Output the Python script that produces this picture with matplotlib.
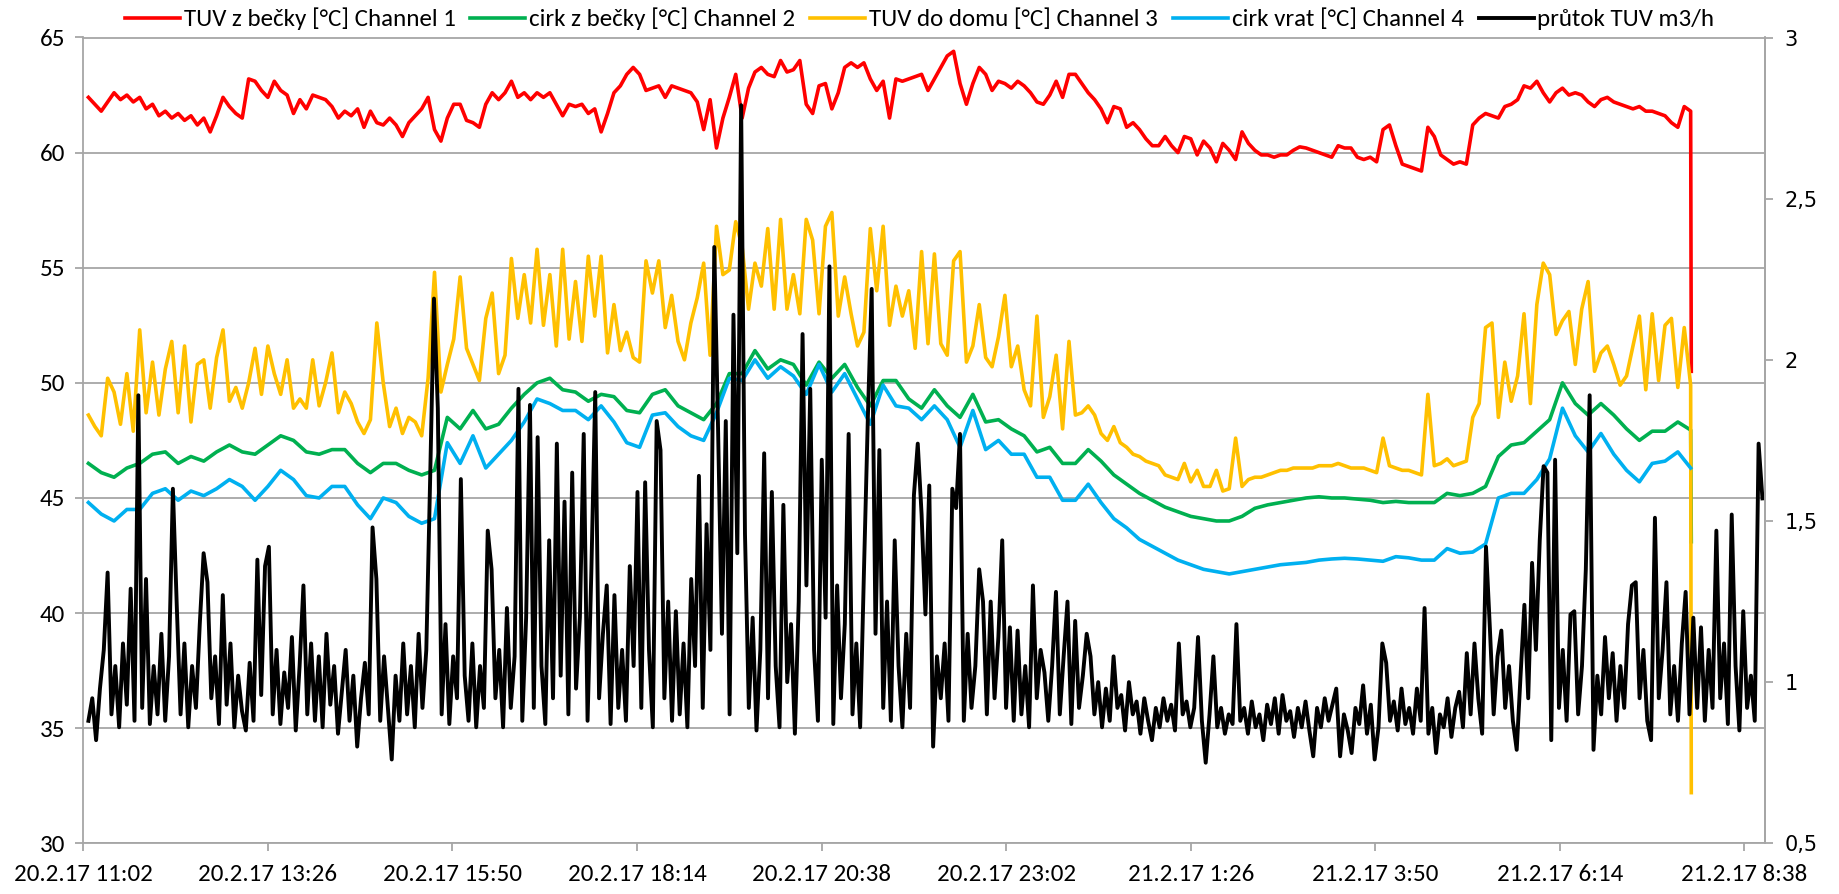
import numpy as np
import matplotlib
matplotlib.use("Agg")
import matplotlib.pyplot as plt
from datetime import datetime, timedelta

# time axis: minutes after 20.2.17 11:02
start = datetime(2017, 2, 20, 11, 2)
temp_t0, temp_t1 = 4, 1254      # colour series sampled over this span
flow_t0, flow_t1 = 4, 1310

labels = ["TUV z bečky [°C] Channel 1", "cirk z bečky [°C] Channel 2",
          "TUV do domu [°C] Channel 3", "cirk vrat [°C] Channel 4",
          "průtok TUV m3/h"]

# Channel 1, every 5 min
red_vals = [
    62.4, 62.1, 61.8, 62.2, 62.6, 62.3, 62.5, 62.2, 62.4, 61.9,
    62.1, 61.6, 61.8, 61.5, 61.7, 61.4, 61.6, 61.2, 61.5, 60.9,
    61.6, 62.4, 62.0, 61.7, 61.5, 63.2, 63.1, 62.7, 62.4, 63.1,
    62.7, 62.5, 61.7, 62.3, 61.9, 62.5, 62.4, 62.3, 62.0, 61.5,
    61.8, 61.6, 61.9, 61.1, 61.8, 61.3, 61.2, 61.5, 61.2, 60.7,
    61.3, 61.6, 61.9, 62.4, 61.0, 60.5, 61.5, 62.1, 62.1, 61.4,
    61.3, 61.1, 62.1, 62.6, 62.3, 62.6, 63.1, 62.4, 62.6, 62.3,
    62.6, 62.4, 62.6, 62.1, 61.6, 62.1, 62.0, 62.1, 61.7, 61.9,
    60.9, 61.7, 62.6, 62.9, 63.4, 63.7, 63.4, 62.7, 62.8, 62.9,
    62.4, 62.9, 62.8, 62.7, 62.6, 62.2, 61.0, 62.3, 60.2, 61.5,
    62.4, 63.4, 61.5, 62.8, 63.5, 63.7, 63.4, 63.3, 64.0, 63.5,
    63.6, 64.0, 62.1, 61.7, 62.9, 63.0, 61.9, 62.6, 63.7, 63.9,
    63.7, 63.9, 63.2, 62.7, 63.1, 61.5, 63.2, 63.1, 63.2, 63.3,
    63.4, 62.7, 63.2, 63.7, 64.2, 64.4, 63.0, 62.1, 63.0, 63.7,
    63.4, 62.7, 63.1, 63.0, 62.8, 63.1, 62.9, 62.6, 62.2, 62.1,
    62.5, 63.1, 62.4, 63.4, 63.4, 63.0, 62.6, 62.3, 61.9, 61.3,
    62.0, 61.9, 61.1, 61.3, 61.0, 60.6, 60.3, 60.3, 60.7, 60.3,
    60.0, 60.7, 60.6, 59.9, 60.5, 60.2, 59.6, 60.4, 60.1, 59.7,
    60.9, 60.4, 60.1, 59.9, 59.9, 59.8, 59.9, 59.9, 60.1, 60.25,
    60.2, 60.1, 60.0, 59.9, 59.8, 60.3, 60.2, 60.2, 59.8, 59.7,
    59.8, 59.6, 61.0, 61.2, 60.3, 59.5, 59.4, 59.3, 59.2, 61.1,
    60.7, 59.9, 59.7, 59.5, 59.6, 59.5, 61.2, 61.5, 61.7, 61.6,
    61.5, 62.0, 62.1, 62.3, 62.9, 62.8, 63.1, 62.6, 62.2, 62.6,
    62.8, 62.5, 62.6, 62.5, 62.2, 62.0, 62.3, 62.4, 62.2, 62.1,
    62.0, 61.9, 62.0, 61.8, 61.8, 61.7, 61.6, 61.3, 61.1, 62.0,
    61.8,
]
red_end = 50.5

# Channel 3, every 5 min
yellow_vals = [
    48.6, 48.1, 47.7, 50.2, 49.6, 48.2, 50.4, 47.9, 52.3, 48.7,
    50.9, 48.6, 50.6, 51.8, 48.7, 51.6, 48.3, 50.8, 51.0, 48.9,
    51.1, 52.3, 49.2, 49.8, 48.9, 50.0, 51.5, 49.5, 51.6, 50.4,
    49.5, 51.0, 48.9, 49.3, 48.9, 51.0, 49.0, 50.0, 51.3, 48.7,
    49.6, 49.1, 48.3, 47.8, 48.4, 52.6, 50.0, 48.1, 48.9, 47.8,
    48.5, 48.3, 47.7, 50.2, 54.8, 49.6, 50.8, 51.9, 54.6, 51.5,
    50.8, 50.1, 52.8, 53.9, 50.4, 51.2, 55.4, 52.8, 54.7, 52.6,
    55.8, 52.5, 54.7, 51.6, 55.8, 51.9, 54.4, 51.8, 55.5, 52.9,
    55.5, 51.3, 53.4, 51.4, 52.2, 51.1, 50.9, 55.3, 53.9, 55.3,
    52.4, 53.8, 51.8, 51.0, 52.6, 53.7, 55.2, 51.2, 56.8, 54.7,
    54.9, 57.0, 55.9, 53.2, 55.2, 54.2, 56.7, 53.2, 57.1, 53.2,
    54.7, 53.0, 57.1, 56.2, 53.0, 56.8, 57.4, 52.9, 54.6, 53.0,
    51.6, 52.2, 56.7, 54.0, 56.8, 52.5, 54.2, 52.9, 54.0, 51.5,
    55.7, 51.7, 55.6, 51.7, 51.2, 55.3, 55.7, 50.9, 51.6, 53.4,
    51.1, 50.7, 52.0, 53.8, 50.7, 51.6, 49.7, 49.0, 52.9, 48.5,
    49.4, 51.2, 48.0, 51.8, 48.6, 48.7, 49.0, 48.6, 47.8, 47.5,
    48.1, 47.4, 47.2, 46.9, 46.8, 46.6, 46.5, 46.4, 46.0, 45.9,
    45.8, 46.5, 45.7, 46.2, 45.5, 45.5, 46.2, 45.3, 45.4, 47.6,
    45.5, 45.8, 45.9, 45.9, 46.0, 46.1, 46.2, 46.2, 46.3, 46.3,
    46.3, 46.3, 46.4, 46.4, 46.4, 46.5, 46.4, 46.3, 46.3, 46.3,
    46.2, 46.1, 47.6, 46.4, 46.3, 46.2, 46.2, 46.1, 46.0, 49.5,
    46.4, 46.5, 46.7, 46.4, 46.5, 46.6, 48.5, 49.1, 52.4, 52.6,
    48.5, 50.9, 49.2, 50.3, 53.0, 49.1, 53.4, 55.2, 54.7, 52.1,
    52.7, 53.1, 50.8, 53.2, 54.4, 50.5, 51.3, 51.6, 50.8, 49.9,
    50.3, 51.6, 52.9, 49.7, 53.0, 50.1, 52.5, 52.8, 49.8, 52.4,
    49.9,
]
yellow_end = 32.2

# Channel 2, every 10 min
green_vals = [
    46.5, 46.1, 45.9, 46.3, 46.5, 46.9, 47.0, 46.5, 46.8, 46.6,
    47.0, 47.3, 47.0, 46.9, 47.3, 47.7, 47.5, 47.0, 46.9, 47.1,
    47.1, 46.5, 46.1, 46.5, 46.5, 46.2, 46.0, 46.2, 48.5, 48.0,
    48.8, 48.0, 48.2, 48.9, 49.5, 50.0, 50.2, 49.7, 49.6, 49.2,
    49.5, 49.4, 48.8, 48.7, 49.5, 49.7, 49.0, 48.7, 48.4, 49.1,
    50.4, 50.4, 51.4, 50.6, 51.0, 50.8, 49.9, 50.9, 50.2, 50.8,
    49.8, 49.0, 50.1, 50.1, 49.3, 48.9, 49.7, 49.0, 48.5, 49.5,
    48.3, 48.4, 48.0, 47.7, 47.0, 47.2, 46.5, 46.5, 47.1, 46.6,
    46.0, 45.6, 45.2, 44.9, 44.6, 44.4, 44.2, 44.1, 44.0, 44.0,
    44.2, 44.55, 44.7, 44.8, 44.9, 45.0, 45.05, 45.0, 45.0, 44.95,
    44.9, 44.8, 44.85, 44.8, 44.8, 44.8, 45.2, 45.1, 45.2, 45.5,
    46.8, 47.3, 47.4, 47.9, 48.4, 50.0, 49.1, 48.6, 49.1, 48.6,
    48.0, 47.5, 47.9, 47.9, 48.3, 47.95,
]
green_end = 43.1

# Channel 4, every 10 min
blue_vals = [
    44.8, 44.3, 44.0, 44.5, 44.5, 45.2, 45.4, 44.9, 45.3, 45.1,
    45.4, 45.8, 45.5, 44.9, 45.5, 46.2, 45.8, 45.1, 45.0, 45.5,
    45.5, 44.7, 44.1, 45.0, 44.8, 44.2, 43.9, 44.1, 47.4, 46.5,
    47.7, 46.3, 46.9, 47.5, 48.3, 49.3, 49.1, 48.8, 48.8, 48.4,
    49.0, 48.3, 47.4, 47.2, 48.6, 48.7, 48.1, 47.7, 47.5, 48.7,
    50.2, 50.1, 51.0, 50.2, 50.7, 50.3, 49.5, 50.8, 49.6, 50.4,
    49.3, 48.2, 49.9, 49.0, 48.9, 48.4, 49.0, 48.4, 47.2, 48.8,
    47.1, 47.5, 46.9, 46.9, 45.9, 45.9, 44.9, 44.9, 45.6, 44.8,
    44.1, 43.7, 43.2, 42.9, 42.6, 42.3, 42.1, 41.9, 41.8, 41.7,
    41.8, 41.9, 42.0, 42.1, 42.15, 42.2, 42.3, 42.35, 42.38, 42.35,
    42.3, 42.25, 42.45, 42.4, 42.3, 42.3, 42.8, 42.6, 42.65, 43.0,
    45.0, 45.2, 45.2, 45.8, 46.7, 48.9, 47.7, 47.0, 47.8, 46.9,
    46.2, 45.7, 46.5, 46.6, 47.0, 46.3,
]

# flow m3/h, every 3 min (right axis)
flow_vals = [
    0.88, 0.95, 0.82, 0.98, 1.10, 1.34, 0.90, 1.05, 0.86, 1.12, 0.93, 1.29, 0.88, 1.89, 0.92, 1.32, 0.87, 1.05, 0.90, 1.15,
    0.88, 1.08, 1.60, 1.24, 0.90, 1.12, 0.86, 1.05, 0.92, 1.18, 1.40, 1.31, 0.95, 1.08, 0.87, 1.27, 0.93, 1.12, 0.86, 1.02,
    0.91, 0.85, 1.06, 0.88, 1.38, 0.96, 1.36, 1.42, 0.90, 1.10, 0.87, 1.03, 0.92, 1.14, 0.85, 1.05, 1.30, 0.90, 1.12, 0.88,
    1.08, 0.86, 1.15, 0.93, 1.05, 0.84, 0.97, 1.10, 0.88, 1.02, 0.80, 0.95, 1.06, 0.90, 1.48, 1.32, 0.88, 1.08, 0.92, 0.76,
    1.02, 0.88, 1.12, 0.90, 1.05, 0.86, 1.15, 0.92, 1.10, 1.63, 2.19, 1.85, 0.90, 1.18, 0.87, 1.08, 0.95, 1.63, 1.02, 0.88,
    1.12, 0.86, 1.05, 0.92, 1.47, 1.35, 0.95, 1.10, 0.86, 1.23, 0.92, 1.08, 1.91, 0.88, 1.20, 1.86, 0.92, 1.76, 1.05, 0.87,
    1.44, 0.95, 1.74, 1.02, 1.56, 0.90, 1.65, 0.98, 1.20, 1.77, 0.88, 1.35, 1.90, 0.95, 1.15, 1.30, 0.87, 1.27, 0.92, 1.10,
    0.88, 1.36, 1.05, 1.59, 0.92, 1.62, 1.10, 0.86, 1.81, 1.72, 0.95, 1.25, 0.88, 1.22, 0.90, 1.12, 0.86, 1.32, 1.05, 1.64,
    0.92, 1.49, 1.10, 2.35, 1.78, 1.15, 1.81, 0.90, 2.14, 1.40, 2.79, 1.46, 0.92, 1.20, 0.85, 1.10, 1.71, 0.95, 1.59, 1.05,
    0.86, 1.55, 1.00, 1.18, 0.84, 1.25, 2.08, 1.30, 1.91, 1.10, 0.88, 1.69, 1.20, 2.29, 0.87, 1.30, 0.95, 1.18, 1.77, 0.90,
    1.12, 0.86, 1.35, 1.82, 2.22, 1.15, 1.72, 0.92, 1.25, 0.88, 1.44, 1.05, 0.86, 1.15, 0.92, 1.58, 1.74, 1.52, 1.21, 1.61,
    0.80, 1.08, 0.95, 1.12, 0.88, 1.60, 1.54, 1.77, 0.88, 1.15, 0.92, 1.05, 1.35, 1.25, 0.90, 1.25, 0.95, 1.14, 1.44, 0.92,
    1.17, 0.88, 1.16, 0.90, 1.05, 0.86, 1.30, 0.95, 1.10, 1.03, 0.88, 1.05, 1.28, 0.90, 1.08, 1.25, 0.87, 1.19, 0.92, 1.02,
    1.15, 1.08, 0.90, 1.00, 0.86, 0.98, 0.88, 1.08, 0.92, 0.96, 0.85, 1.00, 0.90, 0.94, 0.84, 0.95, 0.88, 0.82, 0.92, 0.86,
    0.95, 0.88, 0.93, 0.85, 1.12, 0.90, 0.94, 0.86, 0.92, 1.14, 0.88, 0.75, 0.90, 1.08, 0.86, 0.92, 0.84, 0.90, 0.87, 1.18,
    0.88, 0.92, 0.84, 0.94, 0.86, 0.90, 0.82, 0.93, 0.87, 0.95, 0.84, 0.96, 0.88, 0.91, 0.83, 0.92, 0.86, 0.94, 0.85, 0.77,
    0.92, 0.86, 0.95, 0.88, 0.93, 0.98, 0.77, 0.90, 0.85, 0.78, 0.92, 0.87, 0.99, 0.84, 0.93, 0.76, 0.86, 1.12, 1.06, 0.88,
    0.94, 0.85, 0.98, 0.87, 0.92, 0.84, 0.98, 0.88, 1.23, 0.84, 0.92, 0.78, 0.90, 0.86, 0.95, 0.83, 0.92, 0.97, 0.86, 1.09,
    0.90, 1.12, 0.95, 0.84, 1.42, 1.17, 0.90, 1.08, 1.16, 0.92, 1.05, 0.88, 0.79, 1.02, 1.24, 0.95, 1.37, 1.10, 1.44, 1.67,
    1.65, 0.82, 1.69, 0.92, 1.10, 0.88, 1.21, 1.22, 0.90, 1.05, 1.35, 1.89, 0.79, 1.02, 0.90, 1.14, 0.95, 1.09, 0.88, 1.05,
    0.92, 1.18, 1.30, 1.31, 0.95, 1.10, 0.88, 0.82, 1.51, 0.95, 1.10, 1.31, 0.90, 1.05, 0.88, 1.12, 1.28, 0.90, 1.20, 0.92,
    1.17, 0.88, 1.10, 0.92, 1.47, 0.95, 1.12, 0.87, 1.52, 1.05, 0.85, 1.22, 0.92, 1.02, 0.88, 1.74, 1.57,
]

plt.rcParams['font.family'] = ['Carlito', 'Lato', 'DejaVu Sans']
GRID = '#a6a6a6'

def series(vals, end=None):
    t = np.linspace(temp_t0, temp_t1, len(vals))
    y = np.array(vals, dtype=float)
    if end is not None:
        t = np.append(t, temp_t1 + 0.5)
        y = np.append(y, end)
    return t, y

fig = plt.figure(figsize=(18.39, 8.94), dpi=100)
ax = fig.add_axes([83.3 / 1839, 1 - 843.3 / 894, (1765 - 83.3) / 1839, (843.3 - 37.5) / 894])
ax2 = ax.twinx()

lw = 2.6
h1, = ax.plot(*series(red_vals, red_end), color='#ff0000', lw=lw)
h2, = ax.plot(*series(green_vals, green_end), color='#00b050', lw=lw)
h3, = ax.plot(*series(yellow_vals, yellow_end), color='#ffc000', lw=lw)
h4, = ax.plot(*series(blue_vals), color='#00b0f0', lw=lw)
tf = np.linspace(flow_t0, flow_t1, len(flow_vals))
h5, = ax2.plot(tf, flow_vals, color='black', lw=2.8)

ax.set_ylim(30, 65)
ax.set_yticks(np.arange(30, 66, 5))
ax2.set_ylim(0.5, 3)
ax2.set_yticks(np.arange(0.5, 3.01, 0.5))
ax2.set_yticklabels([('%g' % v).replace('.', ',') for v in np.arange(0.5, 3.01, 0.5)],
                    family='DejaVu Sans', fontsize=15)

xt = np.arange(0, 1297, 144)
ax.set_xlim(0, 1312)
ax.set_xticks(xt)
xl = []
for m in xt:
    d = start + timedelta(minutes=int(m))
    xl.append('%d.%d.%02d %d:%02d' % (d.day, d.month, d.year % 100, d.hour, d.minute))
ax.set_xticklabels(xl)

ax.yaxis.grid(True, color=GRID, lw=1.3)
ax.set_axisbelow(True)
for s in ['left', 'bottom', 'top', 'right']:
    ax.spines[s].set_color(GRID)
    ax.spines[s].set_linewidth(1.3)
for s in ['left', 'bottom', 'top']:
    ax2.spines[s].set_visible(False)
ax2.spines['right'].set_color(GRID)
ax2.spines['right'].set_linewidth(1.3)

ax.tick_params(axis='y', direction='out', length=6, width=1.3, color=GRID, labelsize=18, pad=7)
ax.tick_params(axis='x', direction='out', length=6, width=1.3, color=GRID, labelsize=18, pad=9)
ax2.tick_params(axis='y', direction='out', length=6, width=1.3, color=GRID, pad=8)

fig.legend([h1, h2, h3, h4, h5], labels, loc='upper center', bbox_to_anchor=(0.5, 0.997),
           ncol=5, frameon=False, fontsize=18, handlelength=2.2, handletextpad=0.15,
           columnspacing=0.6, borderaxespad=0.1, borderpad=0.1)

fig.savefig('out.png', dpi=100)
